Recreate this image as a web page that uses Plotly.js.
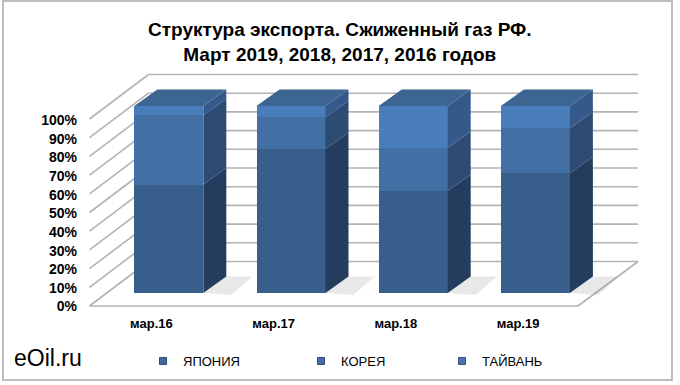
<!DOCTYPE html>
<html>
<head>
<meta charset="utf-8">
<script src="https://cdn.plot.ly/plotly-3.0.1.min.js"></script>
<style>html,body{margin:0;padding:0;background:#fff;}#chart{width:680px;height:385px;}</style>
</head>
<body>
<div id="chart"></div>
<script>
// ---- data ----
const categories = ["мар.16", "мар.17", "мар.18", "мар.19"];
const seriesNames = ["ЯПОНИЯ", "КОРЕЯ", "ТАЙВАНЬ"];
const japan  = [58, 77, 54.5, 64];
const korea  = [37, 17, 23, 24];
const taiwan = [5, 6, 22.5, 12];
const yTicks = [0, 10, 20, 30, 40, 50, 60, 70, 80, 90, 100];
const yTickText = yTicks.map(v => v + "%");
const titleText = "Структура экспорта. Сжиженный газ РФ.<br>Март 2019, 2018, 2017, 2016 годов";

// ---- styling / geometry ----
const W = 680, H = 385;
const frontColors = ["#385F8C", "#4270A5", "#4A7EBB"];
const sideColors  = ["#243C5D", "#2D4B73", "#34598A"];
const legendColors = ["#41699A", "#4570A4", "#4A78AE"];
const topColor = "#3C6591";
const FONT = "Liberation Sans, Arial, sans-serif";

// x axis: 1 unit = 122.2 px, index 0 centre at 168.8 px
const PXX = 122.2, X0PX = 168.8;
const xmin = -X0PX / PXX, xmax = xmin + W / PXX;
// y axis: 1 unit = 1.87 px, value 0 at 293 px
const PXY = 1.87, Y0PX = 293;
const ymin = -(H - Y0PX) / PXY, ymax = ymin + H / PXY;
// tick-label axis: 0 at 306.5 px, 100 at 120.3 px
const PXY2 = (306.5 - 120.3) / 100;
const ymin2 = -(H - 306.5) / PXY2, ymax2 = ymin2 + H / PXY2;

const px2x = p => xmin + p / PXX;
const px2y = p => ymin + (H - p) / PXY;

const barW = 69 / PXX;
const DX = 23 / PXX, DY = 16.5 / PXY;

const series = [japan, korea, taiwan];
const xs = categories.map((c, i) => i);
const legendIds = ["legend", "legend2", "legend3"];

const traces = [];
series.forEach((vals, s) => {
  traces.push({
    type: "bar", x: xs, y: vals, width: barW, name: seriesNames[s],
    marker: {color: frontColors[s], line: {width: 0}},
    showlegend: false, hoverinfo: "skip"
  });
});

// floor shadows
xs.forEach(i => {
  const xr = i + barW / 2;
  traces.push({
    type: "scatter", mode: "lines", showlegend: false, hoverinfo: "skip",
    x: [xr, xr + DX, xr + DX + 26 / PXX, xr + 28 / PXX, xr],
    y: [0, DY, DY, -1 / PXY * 2, 0],
    fill: "toself", fillcolor: "rgba(140,140,140,0.2)", line: {width: 0}
  });
});

// side and top faces (computed from values)
xs.forEach(i => {
  const xl = i - barW / 2, xr = i + barW / 2;
  let cum = 0;
  series.forEach((vals, s) => {
    const y0 = cum, y1 = cum + vals[i];
    traces.push({
      type: "scatter", mode: "lines", showlegend: false, hoverinfo: "skip",
      x: [xr, xr + DX, xr + DX, xr, xr],
      y: [y0, y0 + DY, y1 + DY, y1, y0],
      fill: "toself", fillcolor: sideColors[s], line: {width: 0}
    });
    cum = y1;
  });
  traces.push({
    type: "scatter", mode: "lines", showlegend: false, hoverinfo: "skip",
    x: [xl, xl + DX, xr + DX, xr, xl],
    y: [cum, cum + DY, cum + DY, cum, cum],
    fill: "toself", fillcolor: topColor, line: {width: 0}
  });
});

// legend entries (small square markers)
seriesNames.forEach((n, s) => {
  traces.push({
    type: "scatter", mode: "markers", x: [null], y: [null], name: n,
    legend: legendIds[s], hoverinfo: "skip",
    marker: {symbol: "square", size: 7, color: legendColors[s],
             line: {color: "#2F4F78", width: 1}}
  });
});

// walls / grid as layout shapes
const shapes = [];
const gridColor = "#B3B3B3";
for (let k = 0; k <= 10; k++) {
  const fy = 306 - 18.7 * k, by = fy - 44.5;
  shapes.push({type: "line", xref: "x", yref: "y", layer: "below",
    x0: px2x(89.5), y0: px2y(fy), x1: px2x(148.5), y1: px2y(by),
    line: {color: gridColor, width: 1.6}});
  shapes.push({type: "line", xref: "x", yref: "y", layer: "below",
    x0: px2x(148.5), y0: px2y(by), x1: px2x(638), y1: px2y(by),
    line: {color: gridColor, width: 1.6}});
}
shapes.push({type: "line", xref: "x", yref: "y", layer: "below",
  x0: px2x(89.5), y0: px2y(306), x1: px2x(578), y1: px2y(306),
  line: {color: gridColor, width: 1.6}});
shapes.push({type: "line", xref: "x", yref: "y", layer: "below",
  x0: px2x(578), y0: px2y(306), x1: px2x(638), y1: px2y(261.5),
  line: {color: gridColor, width: 1.6}});
shapes.push({type: "rect", xref: "paper", yref: "paper", layer: "above",
  x0: 3 / W, x1: 672 / W, y0: 1 - 380 / H, y1: 1 - 1 / H,
  line: {color: "#BDBDBD", width: 2}});

const legendBase = {orientation: "h", xanchor: "left", yanchor: "middle",
  bgcolor: "rgba(0,0,0,0)", font: {family: FONT, size: 13, color: "#000"},
  itemwidth: 30, tracegroupgap: 0};

const layout = {
  width: W, height: H,
  margin: {l: 0, r: 0, t: 0, b: 0},
  paper_bgcolor: "#fff", plot_bgcolor: "rgba(0,0,0,0)",
  barmode: "stack", showlegend: true,
  xaxis: {
    range: [xmin, xmax], showgrid: false, zeroline: false, showline: false,
    tickmode: "array", tickvals: xs.map(i => i - 0.142), ticktext: categories,
    ticks: "", anchor: "free", position: (H - 314) / H,
    tickfont: {family: FONT, size: 13, weight: "bold", color: "#000"},
    fixedrange: true
  },
  yaxis: {
    range: [ymin, ymax], showgrid: false, zeroline: false, showline: false,
    showticklabels: false, ticks: "", fixedrange: true
  },
  yaxis2: {
    range: [ymin2, ymax2], overlaying: "y", anchor: "free", position: 77 / W,
    side: "left", showgrid: false, zeroline: false, showline: false,
    tickmode: "array", tickvals: yTicks, ticktext: yTickText, ticks: "",
    tickfont: {family: FONT, size: 14, weight: "bold", color: "#000"},
    fixedrange: true
  },
  legend:  Object.assign({}, legendBase, {x: 143 / W, y: 1 - 361 / H}),
  legend2: Object.assign({}, legendBase, {x: 301 / W, y: 1 - 361 / H}),
  legend3: Object.assign({}, legendBase, {x: 442 / W, y: 1 - 361 / H}),
  shapes: shapes,
  annotations: [{
    text: titleText, xref: "paper", yref: "paper", x: 0.5, y: 1 - 42 / H,
    xanchor: "center", yanchor: "middle", showarrow: false,
    font: {family: FONT, size: 19, weight: "bold", color: "#000"}
  }, {
    text: "eOil.ru", xref: "paper", yref: "paper", x: 12 / W, y: 1 - 358 / H,
    xanchor: "left", yanchor: "middle", showarrow: false,
    font: {family: FONT, size: 23, color: "#000"}
  }]
};

traces.push({type: "scatter", x: [null], y: [null], yaxis: "y2", showlegend: false, hoverinfo: "skip"});

Plotly.newPlot("chart", traces, layout, {displayModeBar: false, staticPlot: true});
</script>
</body>
</html>
